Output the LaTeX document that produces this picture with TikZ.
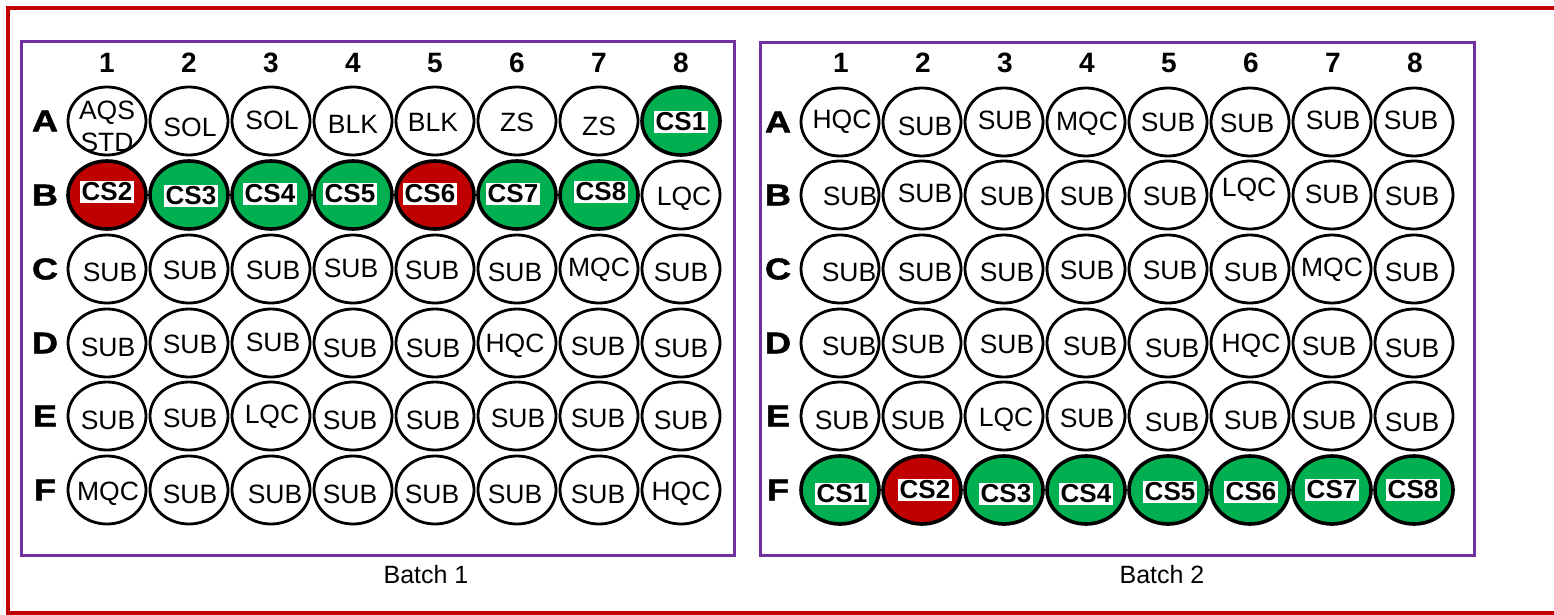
\documentclass[tikz,border=0pt]{standalone}
\usepackage{fontspec}
\setmainfont{Liberation Sans}
\newfontfamily\heavyfont{Liberation Sans Bold}[FakeBold=1.5]
\usetikzlibrary{shapes.geometric}
\definecolor{frameRed}{HTML}{C00000}
\definecolor{platePurple}{HTML}{7030A0}
\definecolor{wellGreen}{HTML}{00B050}
\definecolor{wellRed}{HTML}{C00000}
\tikzset{
  well/.style={ellipse, draw=black, line width=2.8pt, minimum width=78pt, minimum height=68pt, inner sep=0pt},
  wellw/.style={fill=white},
  wellg/.style={fill=wellGreen, line width=3.6pt},
  wellr/.style={fill=wellRed, line width=3.6pt},
  textw/.style={font=\fontsize{26.5}{32}\selectfont, inner sep=0pt, align=center},
  textg/.style={font=\fontsize{26}{26}\selectfont\bfseries, fill=white, inner sep=2pt},
  textr/.style={textg},
  collabel/.style={font=\fontsize{28}{28}\selectfont\bfseries, inner sep=0pt},
  rowlabel/.style={font=\fontsize{30}{30}\heavyfont, inner sep=0pt},
  plateframe/.style={draw=platePurple, line width=3pt},
  batchlabel/.style={font=\fontsize{25}{25}\selectfont, inner sep=0pt}
}
\newcommand\wellrow[5]{%
  \foreach \t/\dx/\dy/\f [count=\c] in {#5}{%
    \node[well,well\f] (#1-#2\c) at ({#4+82*(\c-1)},#3) {};
    \node[text\f] (#1-#2\c-t) at ({#4+82*(\c-1)+\dx},{#3+\dy}) {\t};
  }%
  \node[rowlabel] (#1-row#2) at ({#4-62},#3) {\scalebox{1.2}[1]{#2}};
}
\begin{document}
\begin{tikzpicture}[x=1pt,y=-1pt]
\useasboundingbox (0,0) rectangle (1554,615);
\fill[white] (0,0) rectangle (1554,615);
% outer red frame
\draw[draw=frameRed, line width=4pt] (8,8) rectangle (1580,613);
% plates
\draw[plateframe] (21,42) rectangle (734,555);
\draw[plateframe] (760,43) rectangle (1474,555);
% column numbers
\foreach \n in {1,...,8}{
  \node[collabel] (p1-col\n) at ({107+82*(\n-1)},63) {\n};
  \node[collabel] (p2-col\n) at ({841+82*(\n-1)},63) {\n};
}
% Plate 1
\wellrow{p1}{A}{121}{107}{{AQS\\STD}/0/5/w, SOL/1/6/w, SOL/1/-1/w, BLK/0/3/w, BLK/-2/1/w, ZS/0/1/w, ZS/0/5/w, CS1/0/1/g}
\wellrow{p1}{B}{195}{107}{CS2/0/-3/r, CS3/2/1/g, CS4/-1/-1/g, CS5/-3/-1/g, CS6/-5/-1/r, CS7/-4/-1/g, CS8/2/-3/g, LQC/3/4/w}
\wellrow{p1}{C}{269}{107}{SUB/3/3/w, SUB/1/1/w, SUB/2/1/w, SUB/-2/-1/w, SUB/-3/1/w, SUB/-2/3/w, MQC/0/1/w, SUB/0/3/w}
\wellrow{p1}{D}{343}{107}{SUB/1/4/w, SUB/1/1/w, SUB/2/-1/w, SUB/-3/5/w, SUB/-2/5/w, HQC/-2/3/w, SUB/-1/3/w, SUB/0/5/w}
\wellrow{p1}{E}{416}{107}{SUB/1/4/w, SUB/1/2/w, LQC/1/1/w, SUB/-3/4/w, SUB/-2/4/w, SUB/1/2/w, SUB/-1/2/w, SUB/0/4/w}
\wellrow{p1}{F}{490}{107}{MQC/1/4/w, SUB/1/4/w, SUB/4/4/w, SUB/-3/4/w, SUB/-3/4/w, SUB/-2/4/w, SUB/-1/4/w, HQC/0/4/w}
% Plate 2
\wellrow{p2}{A}{122}{840}{HQC/2/0/w, SUB/3/4/w, SUB/1/-2/w, MQC/1/2/w, SUB/0/0/w, SUB/-3/1/w, SUB/1/-2/w, SUB/-3/-2/w}
\wellrow{p2}{B}{195}{840}{SUB/10/1/w, SUB/3/-2/w, SUB/3/1/w, SUB/1/1/w, SUB/2/1/w, LQC/-1/-5/w, SUB/0/-1/w, SUB/-2/1/w}
\wellrow{p2}{C}{269}{840}{SUB/9/3/w, SUB/3/3/w, SUB/3/3/w, SUB/1/1/w, SUB/2/1/w, SUB/1/3/w, MQC/0/1/w, SUB/-2/3/w}
\wellrow{p2}{D}{343}{840}{SUB/9/3/w, SUB/-4/1/w, SUB/3/1/w, SUB/4/3/w, SUB/4/5/w, HQC/1/3/w, SUB/-3/3/w, SUB/-2/5/w}
\wellrow{p2}{E}{416}{840}{SUB/2/4/w, SUB/-4/4/w, LQC/2/4/w, SUB/1/2/w, SUB/4/6/w, SUB/1/4/w, SUB/-3/4/w, SUB/-2/6/w}
\wellrow{p2}{F}{490}{840}{CS1/2/4/g, CS2/3/0/r, CS3/2/4/g, CS4/0/4/g, CS5/2/2/g, CS6/1/2/g, CS7/0/0/g, CS8/-1/0/g}
% batch labels
\node[batchlabel] (batch1) at (426,575) {Batch 1};
\node[batchlabel] (batch2) at (1162,575) {Batch 2};
\end{tikzpicture}
\end{document}
